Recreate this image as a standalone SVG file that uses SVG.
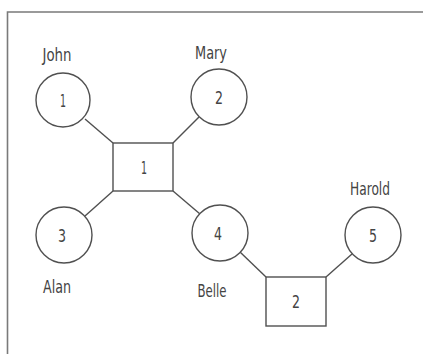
<svg xmlns="http://www.w3.org/2000/svg" width="423" height="354" viewBox="0 0 423 354">
<style>
.frame{fill:none;stroke:#7a7a7a;stroke-width:1.6}
.node{fill:#fff;stroke:#505050;stroke-width:1.4}
.edge{stroke:#505050;stroke-width:1.4;fill:none}
text{font-family:"Liberation Sans Narrow","DejaVu Sans Condensed","Liberation Sans",sans-serif;font-stretch:condensed;font-size:18px;fill:#444;text-anchor:middle}
</style>
<rect width="423" height="354" fill="#fff"/>
<path class="frame" d="M423 12 H7.5 V354"/>
<g id="connectors">
<line class="edge" x1="85" y1="119" x2="113" y2="143"/>
<line class="edge" x1="199" y1="117" x2="173" y2="143"/>
<line class="edge" x1="113" y1="191" x2="85" y2="216"/>
<line class="edge" x1="173" y1="191" x2="200" y2="214"/>
<line class="edge" x1="240" y1="252" x2="266" y2="277"/>
<line class="edge" x1="326" y1="277" x2="352" y2="254"/>
</g>
<g id="person1"><circle class="node" cx="63" cy="100" r="27"/><text x="63" y="107" textLength="6" lengthAdjust="spacingAndGlyphs">1</text><text x="57" y="61" textLength="29" lengthAdjust="spacingAndGlyphs">John</text></g>
<g id="person2"><circle class="node" cx="219" cy="97" r="28"/><text x="219" y="104" textLength="8" lengthAdjust="spacingAndGlyphs">2</text><text x="211" y="59" textLength="32" lengthAdjust="spacingAndGlyphs">Mary</text></g>
<g id="person3"><circle class="node" cx="64" cy="235" r="28"/><text x="62" y="242" textLength="8" lengthAdjust="spacingAndGlyphs">3</text><text x="57" y="293" textLength="28" lengthAdjust="spacingAndGlyphs">Alan</text></g>
<g id="person4"><circle class="node" cx="220" cy="233" r="28"/><text x="218" y="240" textLength="8" lengthAdjust="spacingAndGlyphs">4</text><text x="212" y="297" textLength="29" lengthAdjust="spacingAndGlyphs">Belle</text></g>
<g id="person5"><circle class="node" cx="373" cy="235" r="28"/><text x="373" y="242" textLength="8" lengthAdjust="spacingAndGlyphs">5</text><text x="370" y="195" textLength="40" lengthAdjust="spacingAndGlyphs">Harold</text></g>
<g id="family1"><rect class="node" x="113" y="143" width="60" height="48"/><text x="144" y="174" textLength="6" lengthAdjust="spacingAndGlyphs">1</text></g>
<g id="family2"><rect class="node" x="266" y="277" width="60" height="49"/><text x="296" y="308" textLength="8" lengthAdjust="spacingAndGlyphs">2</text></g>
</svg>
